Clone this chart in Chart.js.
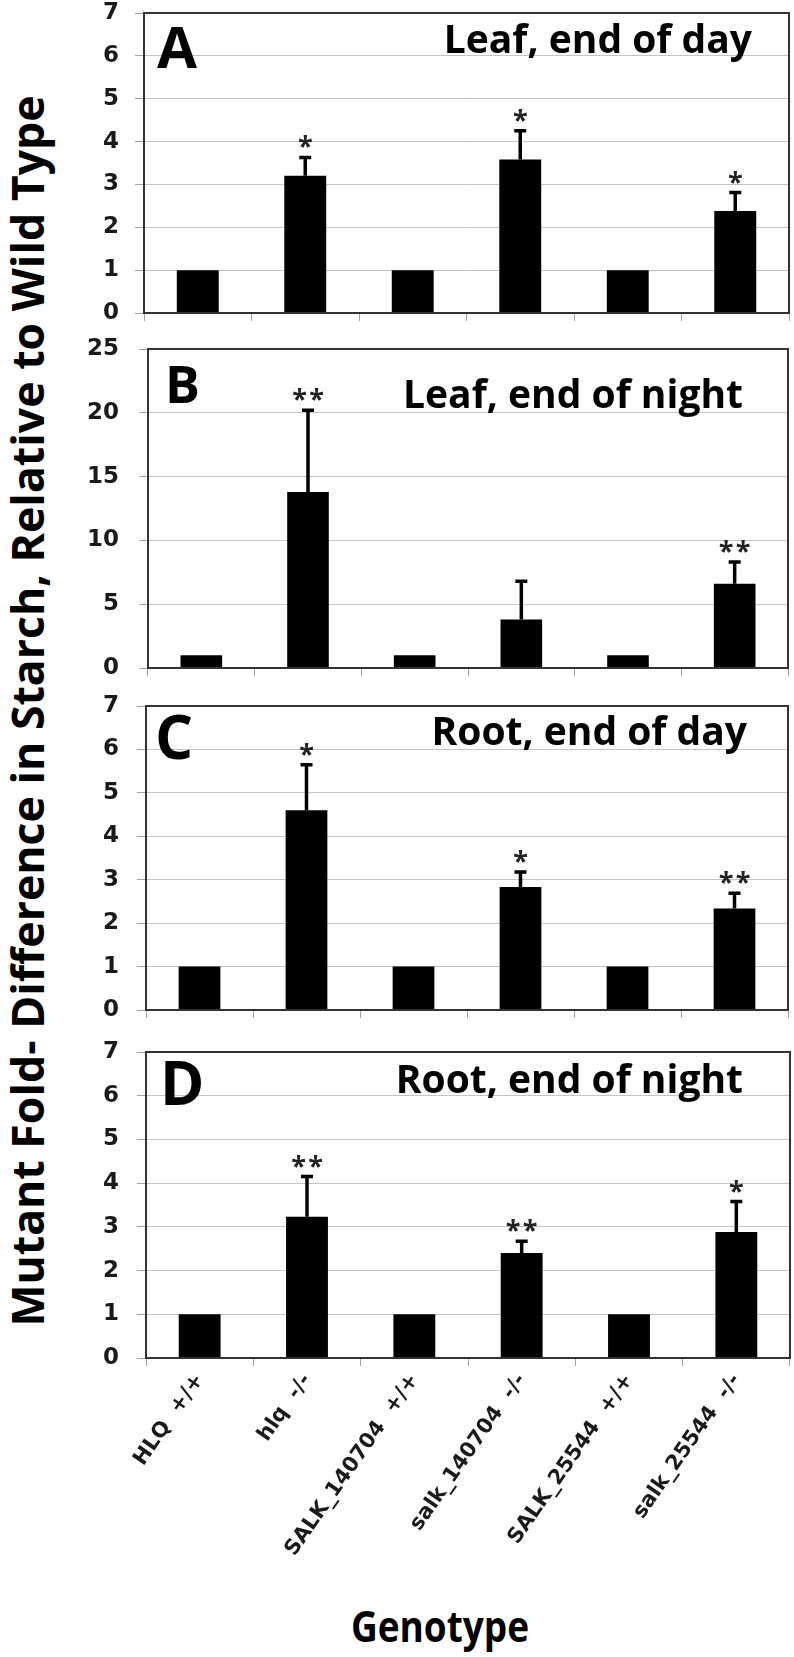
<!DOCTYPE html>
<html>
<head>
<meta charset="utf-8">
<script src="https://cdn.jsdelivr.net/npm/chart.js@4.4.0/dist/chart.umd.min.js"></script>
<style>
  html, body { margin: 0; padding: 0; background: #fff; }
  #page { position: relative; width: 794px; height: 1657px; overflow: hidden; background: #fff; }
  #page canvas { position: absolute; left: 0; }
  .ytitle {
    position: absolute; left: 27px; top: 711px;
    transform: translate(-50%, -50%) rotate(-90deg);
    font: bold 44.6px "Open Sans", sans-serif; line-height: 1; white-space: nowrap; color: #000;
  }
  .xtitle {
    position: absolute; left: 440px; top: 1604px; transform: translateX(-50%) scaleX(0.86);
    font: bold 43px "Open Sans", sans-serif; line-height: 1; white-space: nowrap; color: #000;
  }
</style>
</head>
<body>
<div id="page">
  <div class="ytitle">Mutant Fold- Difference in Starch, Relative to Wild Type</div>
  <div class="xtitle">Genotype</div>
</div>
<script>
/* ---------- Data ---------- */
const genotypes = ["HLQ  +/+", "hlq  -/-", "SALK_140704  +/+", "salk_140704  -/-", "SALK_25544  +/+", "salk_25544  -/-"];

const leafDayMean = [1, 3.2, 1, 3.58, 1, 2.38];
const leafDayErr  = [0, 0.43, 0, 0.67, 0, 0.43];
const leafDaySig  = ["", "*", "", "*", "", "*"];

const leafNightMean = [1, 13.8, 1, 3.8, 1, 6.6];
const leafNightErr  = [0, 6.4, 0, 3.0, 0, 1.7];
const leafNightSig  = ["", "**", "", "", "", "**"];

const rootDayMean = [1, 4.6, 1, 2.83, 1, 2.34];
const rootDayErr  = [0, 1.05, 0, 0.35, 0, 0.35];
const rootDaySig  = ["", "*", "", "*", "", "**"];

const rootNightMean = [1, 3.23, 1, 2.4, 1, 2.88];
const rootNightErr  = [0, 0.92, 0, 0.27, 0, 0.7];
const rootNightSig  = ["", "**", "", "**", "", "*"];

const yTicksFold = [0, 1, 2, 3, 4, 5, 6, 7];
const yTicksLeafNight = [0, 5, 10, 15, 20, 25];

/* ---------- Panels (layout) ---------- */
const PAD_T = 16;
const panels = [
  { letter: "A", title: "Leaf, end of day",   mean: leafDayMean,   err: leafDayErr,   sig: leafDaySig,   ticks: yTicksFold,
    top: 13,   bottom: 313,  left: 144, right: 789, xAxisH: 16, labels: false,
    letterSize: 58, letterX: 157, letterDy: 55, titleDy: 40, titleInset: 37 },
  { letter: "B", title: "Leaf, end of night", mean: leafNightMean, err: leafNightErr, sig: leafNightSig, ticks: yTicksLeafNight,
    top: 349,  bottom: 668,  left: 148, right: 788, xAxisH: 16, labels: false,
    letterSize: 52, letterX: 165, letterDy: 54, titleDy: 59, titleInset: 45 },
  { letter: "C", title: "Root, end of day",   mean: rootDayMean,   err: rootDayErr,   sig: rootDaySig,   ticks: yTicksFold,
    top: 706,  bottom: 1010, left: 146, right: 788, xAxisH: 16, labels: false,
    letterSize: 60, letterX: 155, letterDy: 53, titleDy: 39, titleInset: 41 },
  { letter: "D", title: "Root, end of night", mean: rootNightMean, err: rootNightErr, sig: rootNightSig, ticks: yTicksFold,
    top: 1052, bottom: 1358, left: 146, right: 790, xAxisH: 200, labels: true,
    letterSize: 60, letterX: 160, letterDy: 53, titleDy: 41, titleInset: 47 }
];

/* ---------- Plugin: frame, error bars, stars, panel text ---------- */
function makeDeco(cfg) {
  return {
    id: "deco",
    afterDatasetsDraw(chart) {
      const { ctx, chartArea: a, scales: { y } } = chart;
      const bars = chart.getDatasetMeta(0).data;
      ctx.save();

      // error bars (upper only)
      ctx.strokeStyle = "#000";
      ctx.lineWidth = 3.5;
      cfg.err.forEach((e, i) => {
        if (!e) return;
        const x = bars[i].x;
        const yTop = y.getPixelForValue(cfg.mean[i] + e);
        ctx.beginPath();
        ctx.moveTo(x, bars[i].y);
        ctx.lineTo(x, yTop);
        ctx.moveTo(x - 6, yTop);
        ctx.lineTo(x + 6, yTop);
        ctx.stroke();
      });

      // significance stars
      ctx.fillStyle = "#222";
      ctx.font = 'bold 27px "Open Sans"';
      ctx.textAlign = "center";
      ctx.textBaseline = "alphabetic";
      cfg.sig.forEach((s, i) => {
        if (!s) return;
        const x = bars[i].x;
        const yTop = y.getPixelForValue(cfg.mean[i] + cfg.err[i]);
        const n = s.length;
        for (let k = 0; k < n; k++) {
          ctx.fillText("*", x + (k - (n - 1) / 2) * 17, yTop - 2);
        }
      });

      // frame
      ctx.strokeStyle = "#333";
      ctx.lineWidth = 2;
      ctx.strokeRect(a.left, a.top, a.right - a.left, a.bottom - a.top);

      // panel letter and title
      ctx.fillStyle = "#000";
      ctx.textAlign = "left";
      ctx.font = `bold ${cfg.letterSize}px "Open Sans"`;
      ctx.fillText(cfg.letter, cfg.letterX, a.top + cfg.letterDy);
      ctx.textAlign = "right";
      ctx.font = 'bold 39px "Open Sans"';
      ctx.fillText(cfg.title, a.right - cfg.titleInset, a.top + cfg.titleDy);
      ctx.restore();
    }
  };
}

/* ---------- Build ---------- */
const page = document.getElementById("page");

function makePanel(cfg) {
  const cv = document.createElement("canvas");
  cv.width = 794;
  cv.height = cfg.bottom - cfg.top + PAD_T + cfg.xAxisH;
  cv.style.top = (cfg.top - PAD_T) + "px";
  page.appendChild(cv);

  const yMax = cfg.ticks[cfg.ticks.length - 1];
  new Chart(cv, {
    type: "bar",
    data: {
      labels: genotypes,
      datasets: [{ data: cfg.mean, backgroundColor: "#000", borderWidth: 0, barPercentage: 0.39, categoryPercentage: 1 }]
    },
    options: {
      responsive: false,
      animation: false,
      devicePixelRatio: 1,
      layout: { autoPadding: false, padding: { top: PAD_T, right: 794 - cfg.right, left: 0, bottom: 0 } },
      plugins: { legend: { display: false }, tooltip: { enabled: false } },
      scales: {
        x: {
          grid: { display: true, drawOnChartArea: false, drawTicks: true, tickLength: 8, color: "#a0a0a0", offset: true },
          border: { display: false },
          ticks: {
            display: cfg.labels, autoSkip: false, minRotation: 55, maxRotation: 55, padding: 3,
            color: "#1a1a1a", font: { family: "DejaVu Sans", weight: "bold", size: 21 }
          },
          afterFit: (s) => { s.height = cfg.xAxisH; s.paddingLeft = 0; s.paddingRight = 0; }
        },
        y: {
          min: 0, max: yMax,
          afterBuildTicks: (s) => { s.ticks = cfg.ticks.map(v => ({ value: v })); },
          grid: { color: "#c4c4c4", lineWidth: 1, tickLength: 9, tickColor: "#a0a0a0" },
          border: { display: false },
          ticks: {
            padding: cfg.left - 9 - 119, color: "#1a1a1a",
            font: { family: "DejaVu Sans", weight: "bold", size: 23 }
          },
          afterFit: (s) => { s.width = cfg.left; s.paddingTop = 0; s.paddingBottom = 0; }
        }
      }
    },
    plugins: [makeDeco(cfg)]
  });
}

panels.forEach(makePanel);
</script>
</body>
</html>
